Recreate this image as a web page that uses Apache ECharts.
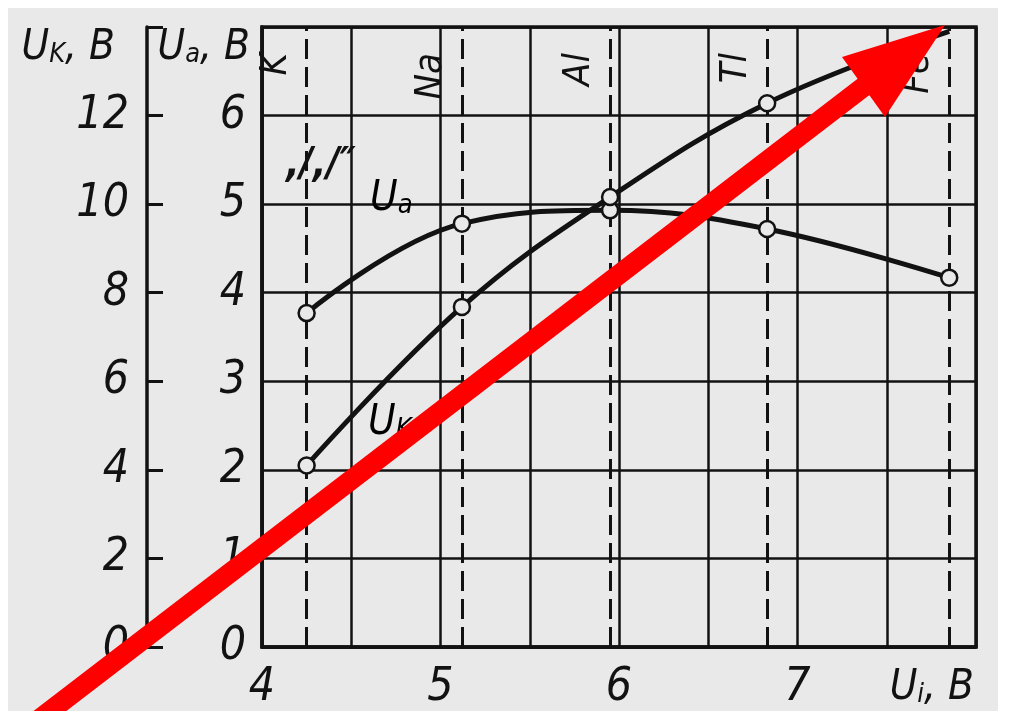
<!DOCTYPE html>
<html>
<head>
<meta charset="utf-8">
<script src="https://cdn.jsdelivr.net/npm/echarts@6/dist/echarts.min.js"></script>
<style>
html,body{margin:0;padding:0;background:#fff;}
#c{width:1010px;height:711px;}
</style>
</head>
<body>
<div id="c"></div>
<script>
// ---- data ----
const elements = ['K', 'Na', 'Al', 'Tl', 'Fe'];
const ionPotential = [4.25, 5.12, 5.95, 6.83, 7.85];   // U_i, B (x positions of dashed lines / points)
const uaValues = [3.77, 4.78, 4.93, 4.72, 4.17];        // U_a, B
const ukValues = [4.1, 7.68, 10.16, 12.28, 13.9];       // U_K, B (last point hidden under the arrow tip)
const xTickLabels = [4, 5, 6, 7];
const uaTickMax = 6;
const ukTickMax = 12;

const FONT = "'Liberation Sans Narrow', 'DejaVu Sans Condensed', 'Liberation Sans', sans-serif";
const INK = '#121212';
const BG = '#e9e9e9';

const chart = echarts.init(document.getElementById('c'), null, {renderer: 'canvas'});

const nameRich = {
  u: {fontSize: 42, fontStyle: 'italic', fontFamily: FONT, color: INK},
  s: {fontSize: 27, fontStyle: 'italic', fontFamily: FONT, color: INK, padding: [14, 0, 0, 0]}
};

const baseLabel = {color: INK, fontStyle: 'italic', fontFamily: FONT, fontSize: 46};

const option = {
  animation: false,
  backgroundColor: '#ffffff',
  grid: {left: 262, right: 34, top: 27, bottom: 64, show: true, borderColor: INK, borderWidth: 3.5},
  xAxis: {
    type: 'value', min: 4, max: 8, interval: 0.5,
    axisLine: {show: true, lineStyle: {color: INK, width: 3.5}},
    axisTick: {show: false},
    splitLine: {show: true, lineStyle: {color: INK, width: 2.5}},
    axisLabel: Object.assign({}, baseLabel, {
      margin: 18,
      formatter: v => xTickLabels.indexOf(v) >= 0 ? String(v) : ''
    }),
    name: '{u|U}{s|i}{u|, B}',
    nameLocation: 'end', nameGap: 0,
    nameTextStyle: {align: 'right', verticalAlign: 'top', padding: [20, 2, 0, 0], rich: nameRich}
  },
  yAxis: [
    {
      type: 'value', min: 0, max: 7, interval: 1, position: 'left', offset: 0,
      axisLine: {show: true, lineStyle: {color: INK, width: 3.5}},
      axisTick: {show: false},
      splitLine: {show: true, lineStyle: {color: INK, width: 2.5}},
      axisLabel: Object.assign({}, baseLabel, {
        margin: 16,
        formatter: v => v <= uaTickMax ? String(v) : ''
      }),
      name: '{u|U}{s|a}{u|, B}',
      nameLocation: 'end', nameGap: 0,
      nameTextStyle: {align: 'right', verticalAlign: 'top', padding: [0, 12, 0, 0], rich: nameRich}
    },
    {
      type: 'value', min: 0, max: 14, interval: 2, position: 'left', offset: 115,
      axisLine: {show: true, lineStyle: {color: INK, width: 3.5}},
      axisTick: {show: true, inside: true, length: 16, lineStyle: {color: INK, width: 3}},
      splitLine: {show: false},
      axisLabel: Object.assign({}, baseLabel, {
        margin: 18,
        formatter: v => v <= ukTickMax ? String(v) : ''
      }),
      name: '{u|U}{s|K}{u|, B}',
      nameLocation: 'end', nameGap: 0,
      nameTextStyle: {align: 'right', verticalAlign: 'top', padding: [0, 32, 0, 0], rich: nameRich}
    }
  ],
  series: [
    {
      name: 'Ua', type: 'line', yAxisIndex: 0,
      data: ionPotential.map((x, i) => [x, uaValues[i]]),
      smooth: 0.4,
      lineStyle: {color: INK, width: 5},
      symbol: 'circle', symbolSize: 16,
      itemStyle: {color: BG, borderColor: INK, borderWidth: 2.5},
      z: 5,
      markLine: {
        silent: true, symbol: ['none', 'none'],
        lineStyle: {color: INK, width: 3, type: [20, 8]},
        label: {
          show: true, position: 'insideEndTop', formatter: '{b}',
          color: INK, fontStyle: 'italic', fontFamily: FONT, fontSize: 38, distance: [26, 12]
        },
        data: elements.map((e, i) => ({name: e, xAxis: ionPotential[i]}))
      }
    },
    {
      name: 'UK', type: 'line', yAxisIndex: 1,
      data: ionPotential.map((x, i) => (
        i === ionPotential.length - 1
          ? {value: [x, ukValues[i]], symbol: 'none'}
          : [x, ukValues[i]]
      )),
      smooth: 0.4,
      lineStyle: {color: INK, width: 5},
      symbol: 'circle', symbolSize: 16,
      itemStyle: {color: BG, borderColor: INK, borderWidth: 2.5},
      z: 5
    }
  ],
  graphic: [
    {type: 'rect', z: -10, silent: true, shape: {x: 8, y: 8, width: 990, height: 703}, style: {fill: BG}},
    // curve labels
    {type: 'text', z: 20, left: 370, top: 178, style: {rich: nameRich, text: '{u|U}{s|a}'}},
    {type: 'text', z: 20, left: 368, top: 402, style: {rich: nameRich, text: '{u|U}{s|K}'}},
    {type: 'text', z: 20, left: 286, top: 146, style: {text: ',/,/\u2033', fontSize: 40, fontStyle: 'italic', fontWeight: 'bold', fontFamily: FONT, fill: INK}},
    // red arrow annotation
    {type: 'line', z: 50, silent: true, shape: {x1: 33, y1: 724, x2: 866, y2: 85}, style: {stroke: '#ff0000', lineWidth: 20}},
    {type: 'polygon', z: 51, silent: true, shape: {points: [[945, 25], [842, 57], [885, 117]]}, style: {fill: '#ff0000'}}
  ]
};
chart.setOption(option);
</script>
</body>
</html>
